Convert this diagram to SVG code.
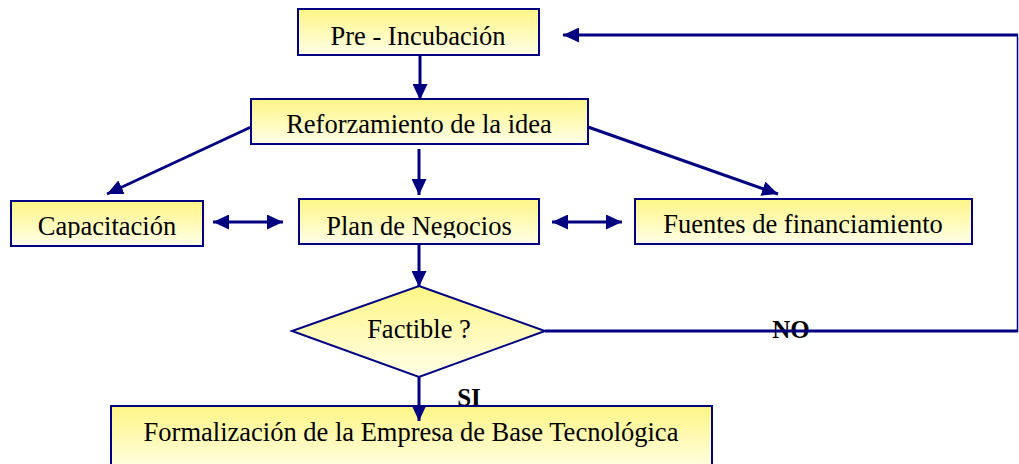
<svg xmlns="http://www.w3.org/2000/svg" width="1019" height="464" viewBox="0 0 1019 464">
<defs>
<linearGradient id="yg" x1="0" y1="0" x2="0" y2="1">
<stop offset="0" stop-color="#FFF585"/>
<stop offset="1" stop-color="#FFFFE8"/>
</linearGradient>
<marker id="ah" markerUnits="userSpaceOnUse" markerWidth="17" markerHeight="15" refX="16" refY="7.5" orient="auto-start-reverse" viewBox="0 0 17 15">
<path d="M0,0 L16,7.5 L0,15 z" fill="#000080"/>
</marker>
<clipPath id="clipCap"><rect x="0" y="195" width="1019" height="43"/></clipPath>
</defs>
<style>
.box{fill:url(#yg);stroke:#000080;stroke-width:2}
.lbl{font-family:"Liberation Serif","Times New Roman",serif;font-size:26.5px;fill:#000;text-anchor:middle}
.bold{font-family:"Liberation Serif","Times New Roman",serif;font-size:25px;font-weight:bold;fill:#000;text-anchor:middle}
.con{stroke:#000080;stroke-width:3;fill:none}
.arr{marker-end:url(#ah)}
.dbl{marker-start:url(#ah);marker-end:url(#ah)}
</style>
<g id="labels">
<text class="bold" x="469" y="406">SI</text>
<text class="bold" x="791" y="338">NO</text>
</g>
<g id="pre">
<rect class="box" x="298" y="9" width="241" height="46"/>
<text class="lbl" x="418" y="45">Pre - Incubación</text>
</g>
<g id="reforzamiento">
<rect class="box" x="251" y="99" width="337" height="45"/>
<text class="lbl" x="419" y="133">Reforzamiento de la idea</text>
</g>
<g id="capacitacion">
<rect class="box" x="11" y="201" width="192" height="45"/>
<text class="lbl" x="107" y="235" clip-path="url(#clipCap)">Capacitación</text>
</g>
<g id="plan">
<rect class="box" x="299" y="199" width="240" height="45"/>
<text class="lbl" x="419" y="235" clip-path="url(#clipCap)">Plan de Negocios</text>
</g>
<g id="fuentes">
<rect class="box" x="635" y="199" width="337" height="45"/>
<text class="lbl" x="803" y="233">Fuentes de financiamiento</text>
</g>
<g id="factible">
<polygon class="box" points="419,286 545,331 419,377 292,331"/>
<text class="lbl" x="419" y="338">Factible ?</text>
</g>
<g id="formalizacion">
<rect class="box" x="111" y="406" width="601" height="66"/>
<text class="lbl" x="411" y="441">Formalización de la Empresa de Base Tecnológica</text>
</g>
<g id="connectors">
<line class="con arr" x1="420" y1="56" x2="420" y2="100"/>
<line class="con arr" x1="419" y1="149" x2="419" y2="195"/>
<line class="con arr" x1="251" y1="127" x2="107" y2="194"/>
<line class="con arr" x1="588" y1="127" x2="778" y2="194"/>
<line class="con dbl" x1="213" y1="222" x2="283" y2="222"/>
<line class="con dbl" x1="552" y1="222" x2="622" y2="222"/>
<line class="con arr" x1="419" y1="244" x2="419" y2="287"/>
<line class="con arr" x1="419" y1="377" x2="419" y2="421"/>
<line class="con" x1="545" y1="331" x2="1018" y2="331"/>
<line stroke="#000080" stroke-width="1.5" x1="1017.5" y1="332" x2="1017.5" y2="34.5"/>
<line class="con arr" x1="1018" y1="35" x2="563" y2="35"/>
</g>
</svg>
